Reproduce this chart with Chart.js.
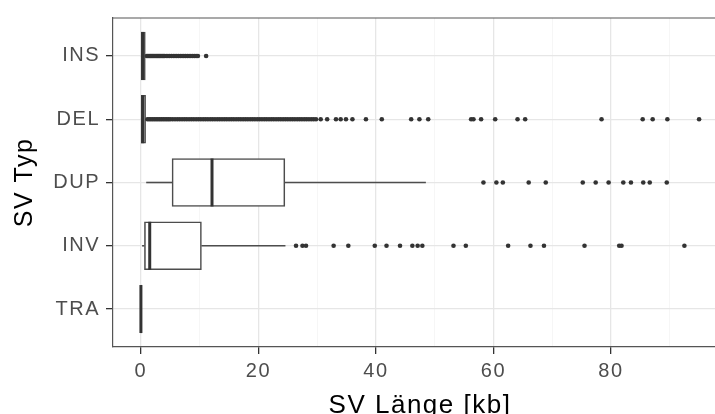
<!DOCTYPE html>
<html>
<head>
<meta charset="utf-8">
<script src="https://cdn.jsdelivr.net/npm/chart.js@4"></script>
<style>
  html, body { margin: 0; padding: 0; background: #fff; overflow: hidden; }
  #wrap { width: 715px; height: 414px; overflow: hidden; }
</style>
</head>
<body>
<div id="wrap"><canvas id="svChart" width="727" height="414"></canvas></div>
<script>
// SV Typen und Kennwerte der Boxplots (kb)
const categories = ["INS", "DEL", "DUP", "INV", "TRA"];
const whiskerLow = [0.0, 0.0, 0.9, 0.2, 0.0];
const q1 = [0.05, 0.05, 5.3, 0.6, 0.0];
const median = [0.3, 0.3, 12.1, 1.5, 0.0];
const q3 = [0.75, 0.8, 24.5, 10.3, 0.05];
const whiskerHigh = [1.0, 1.1, 48.5, 24.6, 0.05];

// Ausreisser je Typ
const outliersINS = [1.0, 1.2, 1.4, 1.6, 1.8, 2.0, 2.2, 2.4, 2.6, 2.8, 3.0, 3.2, 3.4, 3.6, 3.8, 4.0,
  4.3, 4.6, 4.9, 5.2, 5.5, 5.8, 6.1, 6.4, 6.7, 7.0, 7.3, 7.6, 7.9, 8.2, 8.5, 8.8, 9.1, 9.4, 9.7, 11.1];
const outliersDEL = [1.1, 1.4, 1.7, 2.0, 2.3, 2.6, 2.9, 3.2, 3.5, 3.8, 4.1, 4.4, 4.7, 5.0, 5.4, 5.8,
  6.2, 6.6, 7.0, 7.4, 7.8, 8.2, 8.6, 9.0, 9.4, 9.8, 10.2, 10.6, 11.0, 11.4, 11.8, 12.2, 12.6, 13.0,
  13.4, 13.8, 14.2, 14.6, 15.0, 15.4, 15.8, 16.2, 16.6, 17.0, 17.4, 17.8, 18.2, 18.6, 19.0, 19.4,
  19.8, 20.2, 20.6, 21.0, 21.4, 21.8, 22.2, 22.6, 23.0, 23.4, 23.8, 24.2, 24.6, 25.0, 25.4, 25.8,
  26.2, 26.6, 27.0, 27.4, 27.8, 28.2, 28.6, 29.0, 29.4, 29.8, 30.6, 31.7, 33.2, 34.0, 34.9, 36.0,
  38.3, 41.0, 46.0, 47.4, 48.9, 56.2, 56.6, 57.9, 60.3, 64.1, 65.4, 78.4, 85.4, 87.1, 89.6, 95.0];
const outliersDUP = [58.3, 60.5, 61.6, 66.0, 68.9, 75.2, 77.4, 79.6, 82.1, 83.4, 85.5, 86.6, 89.5];
const outliersINV = [26.4, 27.5, 28.1, 32.8, 35.3, 39.8, 41.8, 44.1, 46.2, 47.1, 47.9, 53.2, 55.3,
  62.5, 66.3, 68.6, 75.5, 81.4, 81.8, 92.5];
const outliersTRA = [];
const outlierLists = [outliersINS, outliersDEL, outliersDUP, outliersINV, outliersTRA];

const xTicks = [0, 10, 20, 30, 40, 50, 60, 70, 80, 90];

const lineColor = "#4d4d4d";
const fontFamily = "'Liberation Sans', Arial, sans-serif";

// Whisker als Liniensegmente
const whiskerSets = [];
categories.forEach(function (c, i) {
  whiskerSets.push({ type: "line", data: [{ x: whiskerLow[i], y: i + 1 }, { x: q1[i], y: i + 1 }] });
  whiskerSets.push({ type: "line", data: [{ x: q3[i], y: i + 1 }, { x: whiskerHigh[i], y: i + 1 }] });
});
whiskerSets.forEach(function (ds) {
  ds.borderColor = lineColor;
  ds.borderWidth = 1.6;
  ds.pointRadius = 0;
  ds.order = 3;
});

const outlierPoints = [];
outlierLists.forEach(function (list, i) {
  list.forEach(function (v) {
    outlierPoints.push({ x: v, y: i + 1 });
  });
});

// etwas breitere Schrift wie im Original
const letterSpacing = {
  id: "letterSpacing",
  beforeLayout(chart) { chart.ctx.letterSpacing = "1.5px"; },
  beforeDraw(chart) { chart.ctx.letterSpacing = "1.5px"; },
};

// obere Kante des Plotbereichs (links/unten kommen von den Achsen)
const panelBorder = {
  id: "panelBorder",
  afterDraw(chart) {
    const a = chart.chartArea;
    const ctx = chart.ctx;
    ctx.save();
    ctx.strokeStyle = "#555";
    ctx.lineWidth = 1.2;
    ctx.beginPath();
    ctx.moveTo(a.left, a.top);
    ctx.lineTo(a.right, a.top);
    ctx.stroke();
    ctx.restore();
  },
};

const ctx = document.getElementById("svChart").getContext("2d");
new Chart(ctx, {
  type: "bar",
  data: {
    datasets: [
      {
        type: "scatter",
        data: categories.map((c, i) => ({ x: median[i], y: i + 1 })),
        pointStyle: "line",
        rotation: 90,
        pointRadius: 24,
        borderWidth: 3,
        borderColor: "#333",
        order: 0,
      },
      {
        type: "scatter",
        data: outlierPoints,
        pointRadius: 2.3,
        pointBorderWidth: 0,
        backgroundColor: "#333",
        order: 1,
      },
      {
        type: "bar",
        data: categories.map((c, i) => ({ x: [q1[i], q3[i]], y: i + 1 })),
        backgroundColor: "#fff",
        borderColor: lineColor,
        borderWidth: 1.6,
        borderSkipped: false,
        barThickness: 48,
        order: 2,
      },
      ...whiskerSets,
    ],
  },
  options: {
    indexAxis: "y",
    responsive: false,
    animation: false,
    layout: { autoPadding: false, padding: { top: 15, right: 0, left: 0, bottom: 0 } },
    plugins: { legend: { display: false }, tooltip: { enabled: false } },
    scales: {
      x: {
        type: "linear",
        min: -4.75,
        max: 99.75,
        offset: false,
        afterBuildTicks: (s) => { s.ticks = xTicks.map((v) => ({ value: v })); },
        afterFit: (s) => { s.height = 67; },
        ticks: {
          autoSkip: false,
          maxRotation: 0,
          padding: 5,
          color: "#4d4d4d",
          font: { family: fontFamily, size: 20 },
          callback: (v) => (v % 20 === 0 ? v : ""),
        },
        grid: {
          offset: false,
          color: (c) => (c.tick && c.tick.value % 20 === 0 ? "#e6e6e6" : "#f2f2f2"),
          lineWidth: (c) => (c.tick && c.tick.value % 20 === 0 ? 1.3 : 0.7),
          tickColor: (c) => (c.tick && c.tick.value % 20 === 0 ? "#333" : "rgba(0,0,0,0)"),
          tickLength: 7,
        },
        border: { display: true, color: "#555", width: 1.2 },
        title: {
          display: true,
          text: "SV Länge [kb]",
          color: "#000",
          font: { family: fontFamily, size: 26, lineHeight: 0.65 },
          padding: { top: 0, bottom: 0 },
        },
      },
      y: {
        type: "linear",
        min: 0.4,
        max: 5.6,
        reverse: true,
        offset: false,
        afterBuildTicks: (s) => { s.ticks = categories.map((c, i) => ({ value: i + 1 })); },
        afterFit: (s) => { s.width = 113; },
        ticks: {
          autoSkip: false,
          padding: 6,
          color: "#4d4d4d",
          font: { family: fontFamily, size: 20 },
          callback: (v) => categories[v - 1],
        },
        grid: { offset: false, color: "#e6e6e6", lineWidth: 1.3, tickColor: "#333", tickLength: 7 },
        border: { display: true, color: "#555", width: 1.2 },
        title: {
          display: true,
          text: "SV Typ",
          color: "#000",
          font: { family: fontFamily, size: 25 },
          padding: { top: 10, bottom: 0 },
        },
      },
    },
  },
  plugins: [letterSpacing, panelBorder],
});
</script>
</body>
</html>
